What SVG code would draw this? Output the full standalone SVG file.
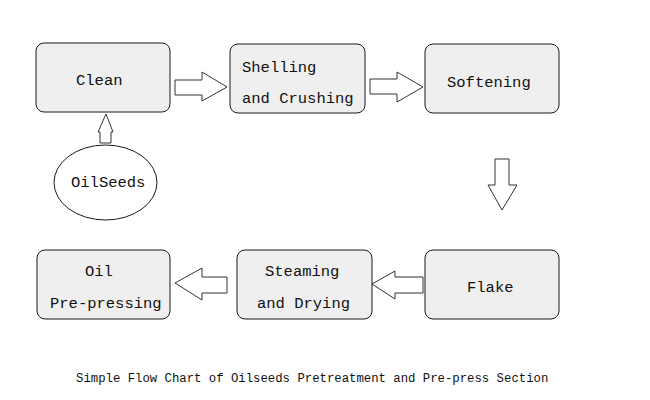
<svg xmlns="http://www.w3.org/2000/svg" width="650" height="400" viewBox="0 0 650 400">
<style>
.box{fill:#efefef;stroke:#1a1a1a;stroke-width:1}
.ell{fill:#ffffff;stroke:#1a1a1a;stroke-width:1}
.arr{fill:#ffffff;stroke:#333333;stroke-width:1;stroke-linejoin:miter}
.t{font-family:"Liberation Mono","DejaVu Sans Mono",monospace;font-size:15.5px;fill:#111111}
.cap{font-family:"Liberation Mono","DejaVu Sans Mono",monospace;font-size:12.3px;fill:#111111}
</style>
<rect width="650" height="400" fill="#ffffff"/>
<g id="connectors">
<polygon class="arr" points="175,80 202,80 202,72 227,87 202,101 202,95 175,95"/>
<polygon class="arr" points="370,79 397,79 397,72 423,87 397,102 397,94 370,94"/>
<polygon class="arr" points="100,143 100,132 98,132 106,114 113,132 111,132 111,143"/>
<polygon class="arr" points="495,159 509,159 509,185 517,185 502,210 488,185 495,185"/>
<polygon class="arr" points="423,277 395,277 395,271 372,284 395,299 395,293 423,293"/>
<polygon class="arr" points="227,277 202,277 202,268 175,283 202,300 202,293 227,293"/>
</g>
<g id="clean">
<rect class="box" x="36" y="43" width="134" height="69" rx="8"/>
<text class="t" x="76" y="85">Clean</text>
</g>
<g id="shelling">
<rect class="box" x="230" y="44" width="135" height="69" rx="8"/>
<text class="t" x="242" y="72">Shelling</text>
<text class="t" x="242" y="103">and Crushing</text>
</g>
<g id="softening">
<rect class="box" x="425" y="44" width="134" height="69" rx="8"/>
<text class="t" x="447" y="87">Softening</text>
</g>
<g id="oilseeds">
<ellipse class="ell" cx="105.5" cy="182.5" rx="51.5" ry="37.5"/>
<text class="t" x="71" y="187">OilSeeds</text>
</g>
<g id="flake">
<rect class="box" x="425" y="250" width="134" height="69" rx="8"/>
<text class="t" x="467" y="292">Flake</text>
</g>
<g id="steaming">
<rect class="box" x="237" y="250" width="135" height="69" rx="8"/>
<text class="t" x="265" y="276">Steaming</text>
<text class="t" x="257" y="308">and Drying</text>
</g>
<g id="prepressing">
<rect class="box" x="37" y="250" width="133" height="69" rx="8"/>
<text class="t" x="85" y="276">Oil</text>
<text class="t" x="50" y="308">Pre-pressing</text>
</g>
<text class="cap" x="76" y="382">Simple Flow Chart of Oilseeds Pretreatment and Pre-press Section</text>
</svg>
